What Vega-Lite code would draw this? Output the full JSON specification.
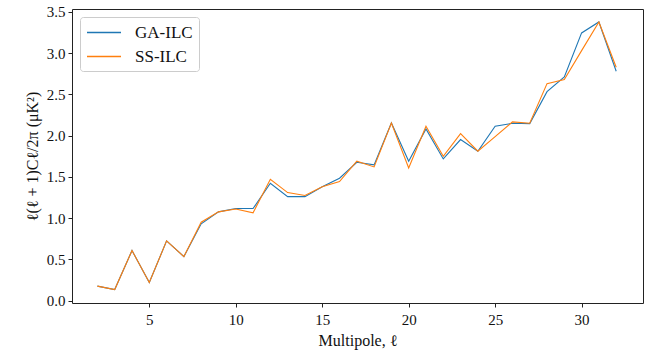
{
  "$schema": "https://vega.github.io/schema/vega-lite/v6.json",
  "autosize": "none",
  "width": 571,
  "height": 294,
  "padding": {"left": 72, "top": 9, "right": 13, "bottom": 49},
  "background": "white",
  "config": {
    "font": "Liberation Serif",
    "view": {"stroke": "#222", "strokeWidth": 1},
    "axis": {
      "domain": false,
      "grid": false,
      "tickColor": "#222",
      "tickSize": 4,
      "labelFontSize": 15,
      "labelColor": "#111",
      "titleFontSize": 16,
      "titleFontWeight": "normal",
      "titleColor": "#111",
      "labelFont": "Liberation Serif",
      "titleFont": "Liberation Serif"
    }
  },
  "data": {
    "values": [
      {"ell": 2, "series": "GA-ILC", "value": 0.175},
      {"ell": 3, "series": "GA-ILC", "value": 0.133},
      {"ell": 4, "series": "GA-ILC", "value": 0.606},
      {"ell": 5, "series": "GA-ILC", "value": 0.218},
      {"ell": 6, "series": "GA-ILC", "value": 0.723},
      {"ell": 7, "series": "GA-ILC", "value": 0.533},
      {"ell": 8, "series": "GA-ILC", "value": 0.93},
      {"ell": 9, "series": "GA-ILC", "value": 1.075},
      {"ell": 10, "series": "GA-ILC", "value": 1.115},
      {"ell": 11, "series": "GA-ILC", "value": 1.115},
      {"ell": 12, "series": "GA-ILC", "value": 1.422},
      {"ell": 13, "series": "GA-ILC", "value": 1.26},
      {"ell": 14, "series": "GA-ILC", "value": 1.26},
      {"ell": 15, "series": "GA-ILC", "value": 1.38},
      {"ell": 16, "series": "GA-ILC", "value": 1.483},
      {"ell": 17, "series": "GA-ILC", "value": 1.676},
      {"ell": 18, "series": "GA-ILC", "value": 1.645},
      {"ell": 19, "series": "GA-ILC", "value": 2.153},
      {"ell": 20, "series": "GA-ILC", "value": 1.689},
      {"ell": 21, "series": "GA-ILC", "value": 2.08},
      {"ell": 22, "series": "GA-ILC", "value": 1.717},
      {"ell": 23, "series": "GA-ILC", "value": 1.952},
      {"ell": 24, "series": "GA-ILC", "value": 1.81},
      {"ell": 25, "series": "GA-ILC", "value": 2.113},
      {"ell": 26, "series": "GA-ILC", "value": 2.149},
      {"ell": 27, "series": "GA-ILC", "value": 2.145},
      {"ell": 28, "series": "GA-ILC", "value": 2.533},
      {"ell": 29, "series": "GA-ILC", "value": 2.71},
      {"ell": 30, "series": "GA-ILC", "value": 3.245},
      {"ell": 31, "series": "GA-ILC", "value": 3.378},
      {"ell": 32, "series": "GA-ILC", "value": 2.78},
      {"ell": 2, "series": "SS-ILC", "value": 0.175},
      {"ell": 3, "series": "SS-ILC", "value": 0.133},
      {"ell": 4, "series": "SS-ILC", "value": 0.606},
      {"ell": 5, "series": "SS-ILC", "value": 0.218},
      {"ell": 6, "series": "SS-ILC", "value": 0.723},
      {"ell": 7, "series": "SS-ILC", "value": 0.533},
      {"ell": 8, "series": "SS-ILC", "value": 0.949},
      {"ell": 9, "series": "SS-ILC", "value": 1.075},
      {"ell": 10, "series": "SS-ILC", "value": 1.11},
      {"ell": 11, "series": "SS-ILC", "value": 1.063},
      {"ell": 12, "series": "SS-ILC", "value": 1.47},
      {"ell": 13, "series": "SS-ILC", "value": 1.309},
      {"ell": 14, "series": "SS-ILC", "value": 1.273},
      {"ell": 15, "series": "SS-ILC", "value": 1.38},
      {"ell": 16, "series": "SS-ILC", "value": 1.442},
      {"ell": 17, "series": "SS-ILC", "value": 1.69},
      {"ell": 18, "series": "SS-ILC", "value": 1.62},
      {"ell": 19, "series": "SS-ILC", "value": 2.153},
      {"ell": 20, "series": "SS-ILC", "value": 1.608},
      {"ell": 21, "series": "SS-ILC", "value": 2.113},
      {"ell": 22, "series": "SS-ILC", "value": 1.749},
      {"ell": 23, "series": "SS-ILC", "value": 2.024},
      {"ell": 24, "series": "SS-ILC", "value": 1.81},
      {"ell": 25, "series": "SS-ILC", "value": 1.988},
      {"ell": 26, "series": "SS-ILC", "value": 2.166},
      {"ell": 27, "series": "SS-ILC", "value": 2.15},
      {"ell": 28, "series": "SS-ILC", "value": 2.63},
      {"ell": 29, "series": "SS-ILC", "value": 2.679},
      {"ell": 30, "series": "SS-ILC", "value": 3.03},
      {"ell": 31, "series": "SS-ILC", "value": 3.378},
      {"ell": 32, "series": "SS-ILC", "value": 2.828}
    ]
  },
  "mark": {"type": "line", "strokeWidth": 1.1, "clip": true},
  "encoding": {
    "x": {
      "field": "ell",
      "type": "quantitative",
      "scale": {"domain": [0.53, 33.55], "nice": false, "zero": false},
      "axis": {"values": [5, 10, 15, 20, 25, 30], "title": "Multipole, ℓ", "titlePadding": 5, "labelPadding": 5}
    },
    "y": {
      "field": "value",
      "type": "quantitative",
      "scale": {"domain": [-0.03, 3.535], "nice": false, "zero": false},
      "axis": {"values": [0, 0.5, 1, 1.5, 2, 2.5, 3, 3.5], "format": ".1f", "title": "ℓ(ℓ + 1)Cℓ/2π  (μK²)", "titlePadding": 6, "labelPadding": 3}
    },
    "color": {
      "field": "series",
      "type": "nominal",
      "scale": {"domain": ["GA-ILC", "SS-ILC"], "range": ["#1f77b4", "#ff7f0e"]},
      "legend": {
        "title": null,
        "orient": "none",
        "legendX": 8,
        "legendY": 8,
        "symbolType": "M-1,0H3",
        "symbolSize": 289,
        "symbolStrokeWidth": 1.3,
        "labelFontSize": 17,
        "labelFont": "Liberation Serif",
        "labelColor": "#111",
        "labelOffset": 30,
        "rowPadding": 6,
        "padding": 6,
        "strokeColor": "#ccc",
        "fillColor": "white",
        "cornerRadius": 3
      }
    },
    "order": {"field": "series"}
  }
}
